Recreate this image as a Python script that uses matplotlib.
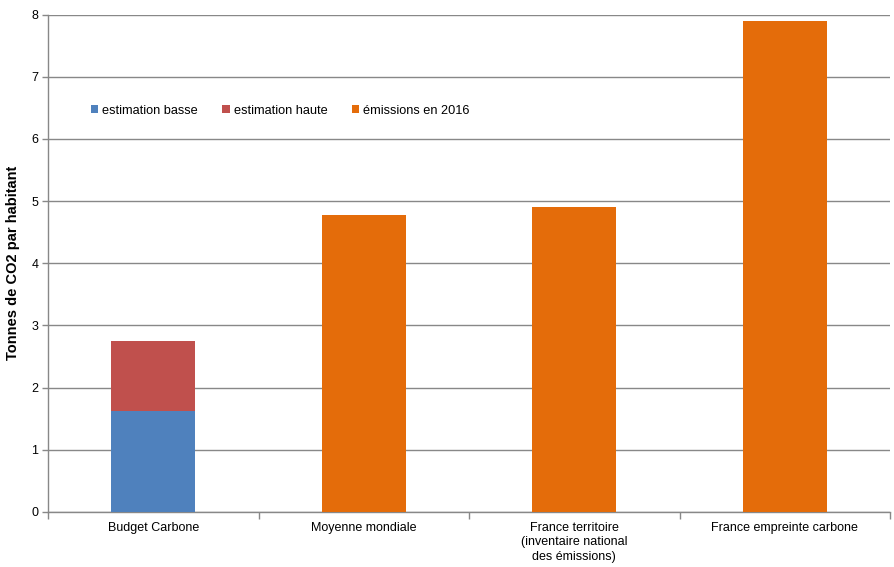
import numpy as np
import matplotlib.pyplot as plt

plt.rcParams['font.family'] = ['Liberation Sans', 'DejaVu Sans']

categories = ['Budget Carbone', 'Moyenne mondiale',
              'France territoire\n(inventaire national\ndes émissions)',
              'France empreinte carbone']
estimation_basse = [1.62, 0, 0, 0]
estimation_haute = [1.13, 0, 0, 0]   # part au-dessus de l'estimation basse
emissions_2016 = [0, 4.78, 4.91, 7.90]

c_bleu = '#4F81BD'
c_rouge = '#C0504D'
c_orange = '#E46C0A'
c_grille = '#888888'

fig = plt.figure(figsize=(8.94, 5.67), dpi=100)
ax = fig.add_axes([48 / 894, 1 - 512 / 567, 842 / 894, 497.5 / 567])

x = np.arange(len(categories))
w = 0.4
ax.bar(x, estimation_basse, w, color=c_bleu, label='estimation basse', zorder=3)
ax.bar(x, estimation_haute, w, bottom=estimation_basse, color=c_rouge,
       label='estimation haute', zorder=3)
ax.bar(x, emissions_2016, w, color=c_orange, label='émissions en 2016', zorder=3)

ax.set_xlim(-0.5, len(categories) - 0.5)
ax.set_ylim(0, 8)
ax.set_yticks(range(0, 9))
ax.yaxis.grid(True, color=c_grille, linewidth=1, zorder=0)

# ticks de séparation entre catégories
ax.set_xticks(np.arange(-0.5, len(categories), 1.0))
ax.set_xticklabels([])
ax.set_xticks(x, minor=True)
ax.set_xticklabels(categories, minor=True, fontsize=9, linespacing=1.3)
ax.tick_params(axis='x', which='minor', length=0, pad=7)
ax.tick_params(axis='x', which='major', length=5, color=c_grille, width=1)
ax.tick_params(axis='y', length=4, color=c_grille, width=1, labelsize=9, pad=3)

for s in ['top', 'right']:
    ax.spines[s].set_visible(False)
for s in ['left', 'bottom']:
    ax.spines[s].set_color(c_grille)
    ax.spines[s].set_linewidth(1)

ax.set_ylabel('Tonnes de CO2 par habitant', fontsize=10.5, fontweight='bold', labelpad=8)

leg = ax.legend(loc='center left', bbox_to_anchor=(0.037, 0.807), ncol=3, frameon=False,
                fontsize=9.2, handlelength=0.6, handleheight=0.6, handletextpad=0.3,
                columnspacing=1.9)

plt.savefig('out.png', dpi=100)
